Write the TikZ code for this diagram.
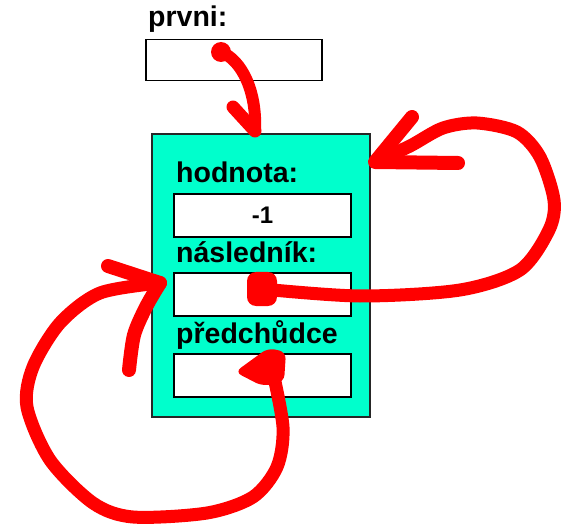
\documentclass[tikz,border=0pt]{standalone}
\usepackage{fontspec}
\setmainfont{Liberation Sans}
\definecolor{cyanc}{RGB}{0,255,204}
\begin{document}
\begin{tikzpicture}[x=1pt,y=-1pt,
  lbl/.style={font=\fontsize{28.5}{30}\selectfont\bfseries, anchor=base west, inner sep=0pt},
  field/.style={draw=black, line width=1.5pt, fill=white, minimum width=177pt, minimum height=43pt, inner sep=0pt},
  redstroke/.style={draw=red, line width=13pt, line cap=round, line join=round}]
\useasboundingbox (0,0) rectangle (563,532);

% top pointer
\node[lbl] (prvniL) at (148,27) {prvni:};
\node[draw=black, line width=1.5pt, fill=white, minimum width=176pt, minimum height=41pt, inner sep=0pt] (prvni) at (234,60) {};

% record
\node[draw=black!85, line width=1.5pt, fill=cyanc, minimum width=218pt, minimum height=283pt, inner sep=0pt] (rec) at (261,275.5) {};
\node[lbl] (hodL) at (176,183) {hodnota:};
\node[field] (val) at (262.5,215.5) {};
\node[font=\fontsize{24}{26}\selectfont\bfseries, anchor=base, inner sep=0pt] (valT) at (262.5,224) {-1};
\node[lbl] (nasL) at (176,263) {následník:};
\node[field] (nxt) at (262.5,294.5) {};
\node[lbl] (predL) at (176,343) {předchůdce};
\node[field] (prv) at (262.5,375.5) {};

% arrow 1: prvni -> record
\coordinate (s1) at (221,52);
\coordinate (t1) at (255,131);
\fill[red] (s1) circle (10pt);
\draw[redstroke, line width=12pt] (s1) .. controls (242,60) and (257,92) .. (t1);
\draw[redstroke] (233,107) -- (t1);

% arrow 2: naslednik -> record (right loop)
\coordinate (s2) at (262,289);
\coordinate (t2) at (375,162);
\fill[red, rounded corners=9pt] (247,272) rectangle (277,306);
\draw[redstroke] plot[smooth] coordinates {(s2) (360,296) (460,290) (520,270) (549,230) (554,200) (540,157) (517,132) (477,123) (443,128) (410,146) (t2)};
\draw[redstroke, line width=14pt] (412,117) -- (t2) -- (458,163);

% arrow 3: predchudce -> record (left loop)
\coordinate (s3) at (272,368);
\coordinate (t3) at (160,283);
\fill[red, rounded corners=7pt] (235,372) -- (268,348) -- (286,352) -- (284,382) -- (262,386) -- cycle;
\draw[redstroke] plot[smooth] coordinates {(s3) (283,427) (277,467) (253,497) (207,513) (133,517) (93,503) (50,460) (27,407) (33,367) (60,323) (100,293) (t3)};
\draw[redstroke, line width=14pt] (108,266) -- (t3);
\draw[redstroke, line width=14pt] plot[smooth] coordinates {(t3) (146,307) (134,335) (129,370)};
\end{tikzpicture}
\end{document}
